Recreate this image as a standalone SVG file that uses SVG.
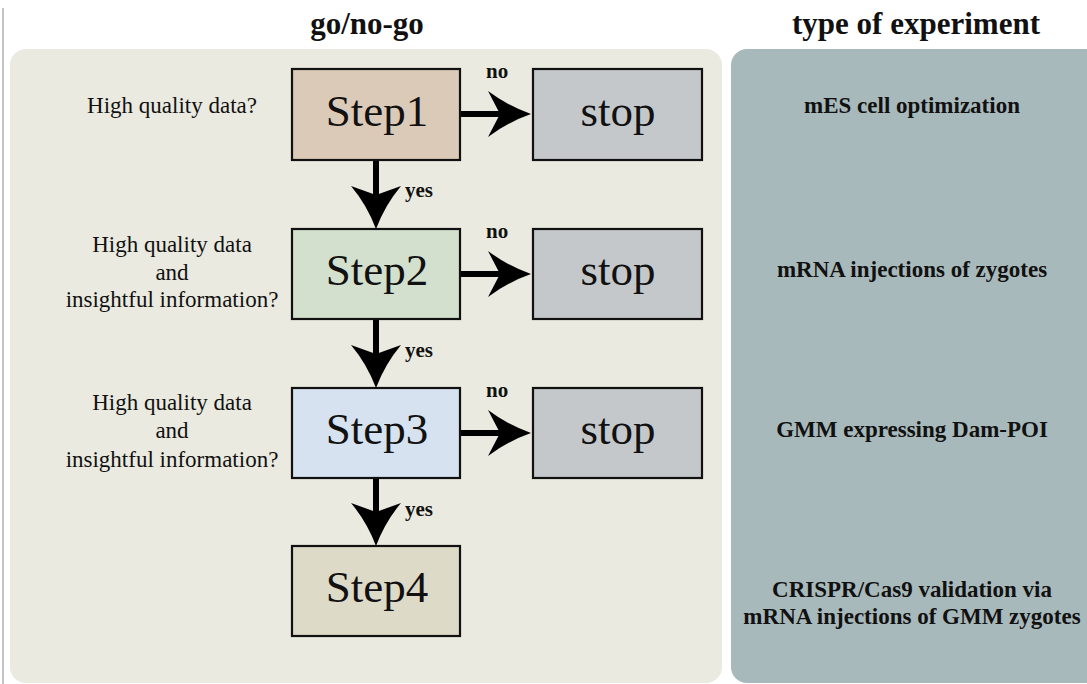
<svg xmlns="http://www.w3.org/2000/svg" width="1087" height="684" viewBox="0 0 1087 684">
<defs>
<style>
.t{font-family:"Liberation Serif","Times New Roman",serif;fill:#111}
.title{font-size:31px;font-weight:bold;text-anchor:middle}
.q{font-size:23px;text-anchor:middle}
.exp{font-size:23px;font-weight:bold;text-anchor:middle}
.lab{font-size:21px;font-weight:bold}
.big{font-size:45px;text-anchor:middle}
.box{stroke:#111;stroke-width:2.2}
.stop{fill:#C5C8CB}
.shaft{stroke:#000;stroke-width:6;fill:none}
.head{fill:#000}
</style>
</defs>
<rect width="1087" height="684" fill="#ffffff"/>
<line x1="3" y1="8" x2="3" y2="684" stroke="#c4c4c4" stroke-width="2"/>
<rect x="10" y="49" width="712" height="634" rx="16" fill="#EAEAE0"/>
<rect x="731" y="49" width="370" height="634" rx="16" fill="#A8B9BB"/>
<text class="t title" x="367" y="34">go/no-go</text>
<text class="t title" x="916" y="34">type of experiment</text>

<g id="q1"><text class="t q" x="172" y="113">High quality data?</text></g>
<g id="q2"><text class="t q" x="172" y="252">High quality data</text><text class="t q" x="172" y="280">and</text><text class="t q" x="172" y="307">insightful information?</text></g>
<g id="q3"><text class="t q" x="172" y="410">High quality data</text><text class="t q" x="172" y="438">and</text><text class="t q" x="172" y="467">insightful information?</text></g>

<g id="step1"><rect class="box" x="292" y="69" width="168" height="91" fill="#DCCAB8"/><text class="t big" x="377" y="126">Step1</text></g>
<g id="step2"><rect class="box" x="292" y="229" width="168" height="90" fill="#D3E0CE"/><text class="t big" x="377" y="285">Step2</text></g>
<g id="step3"><rect class="box" x="292" y="388" width="168" height="90" fill="#D6E2F0"/><text class="t big" x="377" y="444">Step3</text></g>
<g id="step4"><rect class="box" x="292" y="546" width="168" height="90" fill="#DEDAC8"/><text class="t big" x="377" y="602">Step4</text></g>
<g id="stop1"><rect class="box stop" x="533" y="69" width="169" height="91"/><text class="t big" x="618" y="126">stop</text></g>
<g id="stop2"><rect class="box stop" x="533" y="229" width="169" height="90"/><text class="t big" x="618" y="285">stop</text></g>
<g id="stop3"><rect class="box stop" x="533" y="388" width="169" height="90"/><text class="t big" x="618" y="444">stop</text></g>

<g id="connectors">
<line class="shaft" x1="461" y1="114" x2="505" y2="114"/>
<path class="head" d="M531,114 Q508,106 488,91 L500,114 L488,137 Q508,122 531,114 Z"/>
<line class="shaft" x1="461" y1="274" x2="505" y2="274"/>
<path class="head" d="M531,274 Q508,266 488,251 L500,274 L488,297 Q508,282 531,274 Z"/>
<line class="shaft" x1="461" y1="433" x2="505" y2="433"/>
<path class="head" d="M531,433 Q508,425 488,410 L500,433 L488,456 Q508,441 531,433 Z"/>

<line class="shaft" x1="376" y1="161" x2="376" y2="200"/>
<path class="head" d="M376,229 Q367,205 351,186 L376,195 L401,186 Q385,205 376,229 Z"/>
<line class="shaft" x1="376" y1="320" x2="376" y2="359"/>
<path class="head" d="M376,388 Q367,364 351,345 L376,354 L401,345 Q385,364 376,388 Z"/>
<line class="shaft" x1="376" y1="479" x2="376" y2="517"/>
<path class="head" d="M376,546 Q367,522 351,503 L376,512 L401,503 Q385,522 376,546 Z"/>

<text class="t lab" x="486" y="78">no</text>
<text class="t lab" x="486" y="238">no</text>
<text class="t lab" x="486" y="397">no</text>
<text class="t lab" x="405" y="197">yes</text>
<text class="t lab" x="405" y="357">yes</text>
<text class="t lab" x="405" y="516">yes</text>
</g>

<g id="exp1"><text class="t exp" x="912" y="113">mES cell optimization</text></g>
<g id="exp2"><text class="t exp" x="912" y="277">mRNA injections of zygotes</text></g>
<g id="exp3"><text class="t exp" x="912" y="437">GMM expressing Dam-POI</text></g>
<g id="exp4"><text class="t exp" x="912" y="597">CRISPR/Cas9 validation via</text><text class="t exp" x="912" y="624">mRNA injections of GMM zygotes</text></g>
</svg>
